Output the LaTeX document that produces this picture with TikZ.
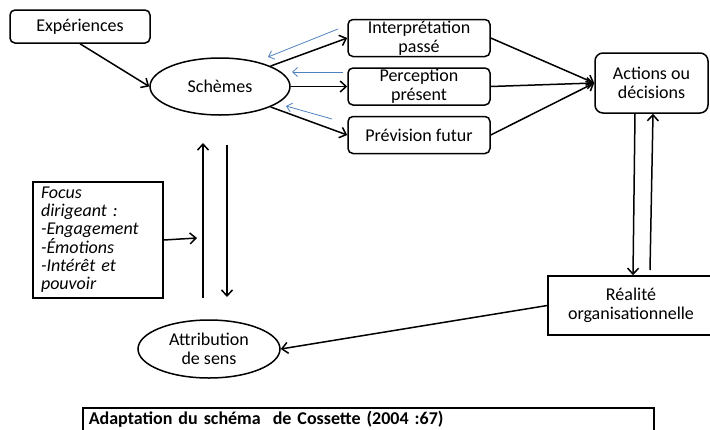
\documentclass[tikz,border=0pt]{standalone}
\usepackage{fontspec}
\setmainfont{Carlito}
\usetikzlibrary{arrows.meta,positioning,shapes.geometric,calc}
\definecolor{fbblue}{HTML}{4F81BD}

\begin{document}
\begin{tikzpicture}[
  x=1pt, y=-1pt,
  font=\fontsize{18}{19}\selectfont,
  node distance=10pt and 10pt,
  box/.style={draw, line width=1.5pt, rounded corners=5pt, minimum width=142pt, minimum height=37pt, inner xsep=2pt, inner ysep=0pt, align=center},
  oval/.style={draw, line width=1.5pt, ellipse, minimum width=140pt, minimum height=57pt, inner sep=0pt, align=center},
  plain/.style={draw, line width=1.5pt, inner xsep=8pt, inner ysep=3pt},
  arrow/.style={-{Straight Barb[length=6pt,width=11pt]}, line width=1.5pt},
  fback/.style={-{Straight Barb[length=5pt,width=9pt]}, line width=0.8pt, color=fbblue}
]
\useasboundingbox (0,0) rectangle (710,429);
\node[box, minimum width=140pt, minimum height=33pt] (exp) at (80,26.5) {Expériences};
\node[oval] (schemes) at (220,86.5) {Schèmes};
\node[box] (percep) at (419,86.5) {Perception\\présent};
\node[box, above=of percep] (interp) {Interprétation\\passé};
\node[box, below=of percep] (prev) {Prévision futur};
\node[box, minimum width=113pt, minimum height=60pt, rounded corners=8pt] (actions) at (651.5,83) {Actions ou\\décisions};
\node[plain, minimum width=166pt, minimum height=59pt, align=center] (reality) at (631,305.5) {Réalité\\organisationnelle};
\node[oval, minimum width=142pt, minimum height=58pt] (attrib) at (209,349) {Attribution\\de sens};
\node[plain, text width=114pt, minimum height=116pt, align=left, font=\fontsize{18}{18}\selectfont\itshape] (focus) at (98,240)
  {Focus\\dirigeant :\\-Engagement\\-Émotions\\-Intérêt et\\pouvoir};
\node[plain, anchor=north west, text width=559pt, text height=14pt, text depth=16pt, inner xsep=6pt, align=left, font=\fontsize{18}{19}\selectfont\bfseries] (caption) at (82,407)
  {Adaptation du schéma~ de Cossette (2004 :67)};
% loose ends
\coordinate (fb1s) at (338,29);
\coordinate (fb1e) at (268,57);
\coordinate (fb2s) at (343,72);
\coordinate (fb2e) at (292,72);
\coordinate (fb3s) at (332,119);
\coordinate (fb3e) at (286,106);
\coordinate (upbot) at (203,298);
\coordinate (uptop) at (203,143);
\coordinate (dntop) at (227,145);
\coordinate (dnbot) at (227,297);
\coordinate (focustip) at (197,238);
\coordinate (actup) at (650,270);
\draw[arrow] (exp.south) -- (schemes.west);
\draw[arrow] (schemes.22) -- (interp.west);
\draw[arrow] (schemes.east) -- (percep.west);
\draw[arrow] (schemes.-22) -- (prev.west);
\draw[fback] (fb1s) -- (fb1e);
\draw[fback] (fb2s) -- (fb2e);
\draw[fback] (fb3s) -- (fb3e);
\draw[arrow] (interp.east) -- (actions.west);
\draw[arrow] (percep.east) -- (actions.west);
\draw[arrow] (prev.east) -- (actions.west);
\draw[arrow] (upbot) -- (uptop);
\draw[arrow] (dntop) -- (dnbot);
\draw[arrow] (focus.east) -- (focustip);
\draw[arrow] ($(actions.south)+(-16.5,0)$) -- ($(reality.north)+(2,0)$);
\draw[arrow] (actup) -- ($(actions.south)+(1.5,0)$);
\draw[arrow] (reality.west) -- (attrib.east);
\end{tikzpicture}
\end{document}
